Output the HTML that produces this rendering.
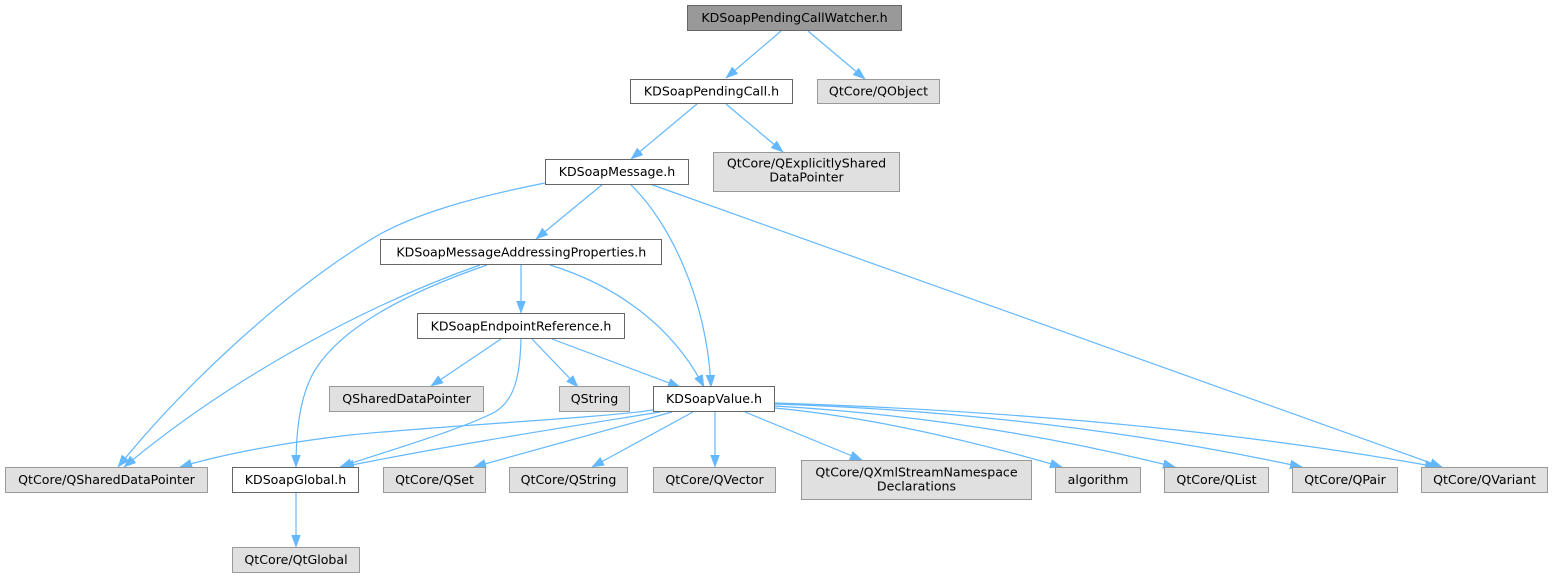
<!DOCTYPE html>
<html>
<head>
<meta charset="utf-8">
<style>
  html, body { margin: 0; padding: 0; background: #ffffff; }
  body { width: 1555px; height: 579px; overflow: hidden; }
  svg { display: block; }
  text { font-family: "DejaVu Sans", "Liberation Sans", sans-serif; font-size: 12.6px; fill: #000; text-anchor: middle; }
  .e { fill: none; stroke: #63b8ff; stroke-width: 1.2; }
  .w { fill: #ffffff; stroke: #666666; stroke-width: 1; }
  .g { fill: #e0e0e0; stroke: #999999; stroke-width: 1; }
  .t { fill: #999999; stroke: #666666; stroke-width: 1; }
</style>
</head>
<body>
<svg width="1555" height="579" viewBox="0 0 1555 579" xmlns="http://www.w3.org/2000/svg">
  <defs>
    <marker id="a" markerUnits="userSpaceOnUse" markerWidth="13" markerHeight="10" refX="12" refY="4.5" orient="auto">
      <path d="M0,0 L12,4.5 L0,9 z" fill="#63b8ff" stroke="#63b8ff" stroke-width="0.5"/>
    </marker>
  </defs>

  <!-- edges -->
  <g marker-end="url(#a)">
    <path class="e" marker-end="url(#a)" d="M781,31 L726,78"/>
    <path class="e" marker-end="url(#a)" d="M808,31 L865,79"/>
    <path class="e" marker-end="url(#a)" d="M697,104 L631,159"/>
    <path class="e" marker-end="url(#a)" d="M726,104 L783,152"/>
    <path class="e" marker-end="url(#a)" d="M603,184 L536,239"/>
    <path class="e" marker-end="url(#a)" d="M630,184 C670,222 707,300 711,387"/>
    <path class="e" marker-end="url(#a)" d="M545,183 C470,198 410,215 370,240 C280,295 180,390 118,467"/>
    <path class="e" marker-end="url(#a)" d="M650,184 L1442,467"/>
    <path class="e" marker-end="url(#a)" d="M521,265 L521,313"/>
    <path class="e" marker-end="url(#a)" d="M550,265 C615,285 672,325 704,387"/>
    <path class="e" marker-end="url(#a)" d="M480,265 C380,300 240,370 124,467"/>
    <path class="e" marker-end="url(#a)" d="M487,265 C400,295 340,330 315,370 C300,395 296,430 296,467"/>
    <path class="e" marker-end="url(#a)" d="M501,339 L431,386"/>
    <path class="e" marker-end="url(#a)" d="M532,339 L578,387"/>
    <path class="e" marker-end="url(#a)" d="M552,339 L680,387"/>
    <path class="e" marker-end="url(#a)" d="M521,339 C520,375 515,400 495,412 C460,430 390,450 340,467"/>
    <path class="e" marker-end="url(#a)" d="M653,410 C600,418 450,425 350,435 C280,443 220,455 180,467"/>
    <path class="e" marker-end="url(#a)" d="M660,412 C580,425 450,445 342,467"/>
    <path class="e" marker-end="url(#a)" d="M672,412 L474,467"/>
    <path class="e" marker-end="url(#a)" d="M693,412 L592,467"/>
    <path class="e" marker-end="url(#a)" d="M715,412 L715,467"/>
    <path class="e" marker-end="url(#a)" d="M745,412 L862,460"/>
    <path class="e" marker-end="url(#a)" d="M775,408 Q900,420 1062,467"/>
    <path class="e" marker-end="url(#a)" d="M775,406 Q980,418 1175,467"/>
    <path class="e" marker-end="url(#a)" d="M775,404 Q1050,413 1302,467"/>
    <path class="e" marker-end="url(#a)" d="M775,403 Q1150,415 1437,467"/>
    <path class="e" marker-end="url(#a)" d="M296,493 L296,547"/>
  </g>

  <!-- nodes -->
  <rect class="t" x="687.5" y="5.5" width="214" height="25"/>
  <text x="794.5" y="22">KDSoapPendingCallWatcher.h</text>

  <rect class="w" x="630.5" y="79.5" width="162" height="24"/>
  <text x="711.5" y="95.5">KDSoapPendingCall.h</text>

  <rect class="g" x="817.5" y="79.5" width="122" height="24"/>
  <text x="878.5" y="95.5">QtCore/QObject</text>

  <rect class="w" x="545.5" y="159.5" width="143" height="25"/>
  <text x="617" y="176">KDSoapMessage.h</text>

  <rect class="g" x="713.5" y="152.5" width="186" height="39"/>
  <text x="806.5" y="167.5">QtCore/QExplicitlyShared</text>
  <text x="806.5" y="181.7">DataPointer</text>

  <rect class="w" x="380.5" y="239.5" width="281" height="25"/>
  <text x="521.3" y="256.3">KDSoapMessageAddressingProperties.h</text>

  <rect class="w" x="417.5" y="313.5" width="207" height="25"/>
  <text x="521" y="330.3">KDSoapEndpointReference.h</text>

  <rect class="g" x="329.5" y="386.5" width="154" height="25"/>
  <text x="406.5" y="403.2">QSharedDataPointer</text>

  <rect class="g" x="559.5" y="386.5" width="70" height="25"/>
  <text x="594.5" y="403.2">QString</text>

  <rect class="w" x="653.5" y="386.5" width="121" height="25"/>
  <text x="714" y="403.2">KDSoapValue.h</text>

  <rect class="g" x="5.5" y="467.5" width="202" height="25"/>
  <text x="106.5" y="484.2">QtCore/QSharedDataPointer</text>

  <rect class="w" x="232.5" y="467.5" width="126" height="25"/>
  <text x="295.5" y="484.2">KDSoapGlobal.h</text>

  <rect class="g" x="383.5" y="467.5" width="102" height="25"/>
  <text x="434.5" y="484.2">QtCore/QSet</text>

  <rect class="g" x="509.5" y="467.5" width="118" height="25"/>
  <text x="568.5" y="484.2">QtCore/QString</text>

  <rect class="g" x="653.5" y="467.5" width="122" height="25"/>
  <text x="714.5" y="484.2">QtCore/QVector</text>

  <rect class="g" x="801.5" y="460.5" width="230" height="39"/>
  <text x="916.5" y="476.5">QtCore/QXmlStreamNamespace</text>
  <text x="916.5" y="490.6">Declarations</text>

  <rect class="g" x="1055.5" y="467.5" width="85" height="25"/>
  <text x="1098" y="484.2">algorithm</text>

  <rect class="g" x="1164.5" y="467.5" width="104" height="25"/>
  <text x="1216.5" y="484.2">QtCore/QList</text>

  <rect class="g" x="1292.5" y="467.5" width="105" height="25"/>
  <text x="1345" y="484.2">QtCore/QPair</text>

  <rect class="g" x="1421.5" y="467.5" width="126" height="25"/>
  <text x="1484.5" y="484.2">QtCore/QVariant</text>

  <rect class="g" x="232.5" y="547.5" width="127" height="25"/>
  <text x="296" y="564.2">QtCore/QtGlobal</text>
</svg>
</body>
</html>
